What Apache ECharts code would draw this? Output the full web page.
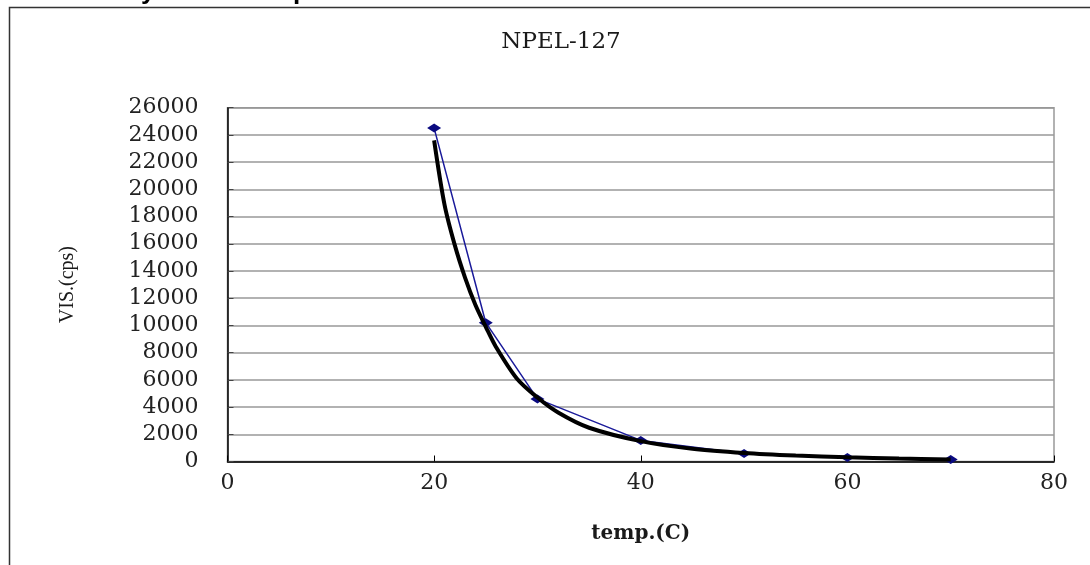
<!DOCTYPE html>
<html>
<head>
<meta charset="utf-8">
<script src="https://cdn.jsdelivr.net/npm/echarts@6/dist/echarts.min.js"></script>
<style>
html,body{margin:0;padding:0;background:#fff;}
#chart{width:1090px;height:565px;}
</style>
</head>
<body>
<div id="chart"></div>
<script>
// measured data (temperature vs viscosity)
const tempX = [20, 25, 30, 40, 50, 60, 70];
const visY = [24500, 10200, 4600, 1550, 580, 300, 150];
// trend line
const trendX = [20, 21, 22, 23, 24, 25, 26, 28, 30, 32, 35, 40, 45, 50, 55, 60, 65, 70];
const trendY = [23600, 18900, 15900, 13500, 11500, 9900, 8400, 6100, 4700, 3600, 2480, 1500, 940, 630, 440, 310, 215, 150];
// axis ticks
const xTicks = [0, 20, 40, 60, 80];
const yTicks = [0, 2000, 4000, 6000, 8000, 10000, 12000, 14000, 16000, 18000, 20000, 22000, 24000, 26000];

const chart = echarts.init(document.getElementById('chart'));
const serif = 'DejaVu Serif';
const option = {
  backgroundColor: '#fff',
  animation: false,
  title: {
    text: 'NPEL-127',
    left: 556,
    top: 26,
    textAlign: 'center',
    textStyle: {fontFamily: serif, fontSize: 23, fontWeight: 'normal', color: '#1a1a1a'}
  },
  graphic: [
    {type: 'rect', shape: {x: 9.5, y: 7.5, width: 1200, height: 700},
     style: {fill: 'none', stroke: '#333', lineWidth: 1.5}, silent: true},
    {type: 'text', x: 141, y: 4.5, style: {text: 'y', font: 'bold 26px "Liberation Sans"', fill: '#000', verticalAlign: 'bottom'}, silent: true},
    {type: 'text', x: 293, y: 4.5, style: {text: 'p', font: 'bold 26px "Liberation Sans"', fill: '#000', verticalAlign: 'bottom'}, silent: true}
  ],
  grid: {
    left: 227.5, right: 36, top: 107.7, bottom: 103.5,
    show: true, borderColor: '#999', borderWidth: 1.5, backgroundColor: 'transparent'
  },
  xAxis: {
    type: 'value',
    min: xTicks[0], max: xTicks[xTicks.length - 1], interval: xTicks[1] - xTicks[0],
    name: 'temp.(C)', nameLocation: 'middle', nameGap: 62,
    nameTextStyle: {fontFamily: serif, fontSize: 20, fontWeight: 'bold', color: '#1a1a1a'},
    axisLine: {show: true, onZero: false, lineStyle: {color: '#000', width: 1.5}},
    axisTick: {show: true, inside: true, length: 6, lineStyle: {color: '#000', width: 1}},
    axisLabel: {fontFamily: serif, fontSize: 22, color: '#222', margin: 11, formatter: v => String(v)},
    splitLine: {show: false}
  },
  yAxis: {
    type: 'value',
    min: yTicks[0], max: yTicks[yTicks.length - 1], interval: yTicks[1] - yTicks[0],
    name: 'VIS.(cps)', nameLocation: 'middle', nameGap: 150, nameRotate: 90,
    nameTextStyle: {fontFamily: 'Liberation Serif', fontSize: 20, color: '#1a1a1a'},
    axisLine: {show: true, onZero: false, lineStyle: {color: '#000', width: 1.5}},
    axisTick: {show: true, inside: true, length: 6, lineStyle: {color: '#444', width: 1}},
    axisLabel: {fontFamily: serif, fontSize: 22, color: '#222', margin: 29, formatter: v => String(v)},
    splitLine: {show: true, lineStyle: {color: '#999', width: 1.5}}
  },
  series: [
    {
      type: 'line',
      name: 'VIS',
      data: tempX.map((x, i) => [x, visY[i]]),
      symbol: 'diamond',
      symbolSize: [14, 9],
      lineStyle: {color: '#1a1a9a', width: 1.5},
      itemStyle: {color: '#0a0a80'},
      z: 2
    },
    {
      type: 'line',
      name: 'trend',
      data: trendX.map((x, i) => [x, trendY[i]]),
      smooth: 0.3,
      showSymbol: false,
      symbol: 'none',
      lineStyle: {color: '#000', width: 4},
      z: 3
    }
  ]
};
chart.setOption(option);
</script>
</body>
</html>
